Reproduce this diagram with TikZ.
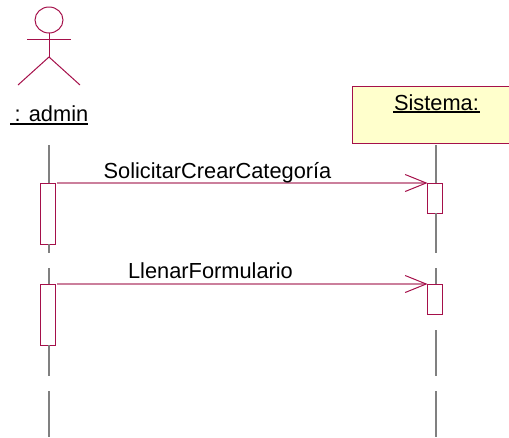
\documentclass[tikz,border=0pt]{standalone}
\usepackage{fontspec}
\usepackage{xcolor}
\usepackage{tikz}
\usetikzlibrary{arrows.meta}
\setmainfont{Liberation Sans}
\definecolor{umlred}{HTML}{A5104A}
\definecolor{umlpink}{HTML}{CB7F9C}
\definecolor{umlyellow}{HTML}{FFFFCC}
\tikzset{
  lifeline/.style={draw=gray,line width=1.3pt},
  actbox/.style={draw=umlred,fill=white,line width=1pt,minimum width=15pt,inner sep=0pt,outer sep=0pt},
  msgline/.style={draw=umlpink,line width=1.3pt,-{Straight Barb[color=umlred,length=21pt,width=17pt,line width=1pt]}},
  umltext/.style={font=\fontsize{21.8pt}{24pt}\selectfont,inner sep=0pt,anchor=base,text=black},
  underln/.style={draw=black,line width=1.2pt}
}
\begin{document}
\begin{tikzpicture}[x=1pt,y=-1pt]
  \useasboundingbox (0,0) rectangle (509,437);
  \clip (0,0) rectangle (509,437);
  % actor
  \draw[umlred,line width=1pt] (49,20) ellipse (14 and 13);
  \draw[umlred,line width=1pt] (27,39) -- (71,39);
  \draw[umlred,line width=1pt] (49,33) -- (49,57);
  \draw[umlred,line width=1pt] (18,85) -- (49,57) -- (80,85);
  \node[umltext] (adminlabel) at (51.5,121) {: admin};
  \coordinate (adminul) at (10,124);
  \draw[underln] (adminul) -- ++(78,0);
  % object box
  \node[draw=umlred,fill=umlyellow,line width=1pt,minimum width=170pt,minimum height=57pt,
    inner sep=0pt,anchor=north west] (sistema) at (351.5,86) {};
  \node[umltext] (sistemalabel) at (436.5,110) {Sistema:};
  \coordinate (sistemaul) at (393,112);
  \draw[underln] (sistemaul) -- ++(87,0);
  % activations
  \node[actbox,minimum height=61pt,anchor=north] (adminact1) at (48,183) {};
  \node[actbox,minimum height=61pt,anchor=north] (adminact2) at (48,284) {};
  \node[actbox,minimum height=30pt,anchor=north] (sistact1) at (435,183) {};
  \node[actbox,minimum height=30pt,anchor=north] (sistact2) at (435,284) {};
  % lifelines
  \foreach \n/\x in {admin/49,sist/436} {
    \coordinate (\n top) at (\x,145);
    \coordinate (\n gapa) at (\x,253);
    \coordinate (\n gapb) at (\x,268);
    \coordinate (\n gapc) at (\x,376);
    \coordinate (\n gapd) at (\x,391);
    \coordinate (\n end) at (\x,437);
    \draw[lifeline] (\n top) -- (\n top |- \n act1.north);
    \draw[lifeline] (\n top |- \n act1.south) -- (\n gapa);
    \draw[lifeline] (\n gapb) -- (\n gapb |- \n act2.north);
    \draw[lifeline] (\n gapd) -- (\n end);
  }
  \draw[lifeline] (admintop |- adminact2.south) -- (admingapc);
  \coordinate (sistgape) at (436,330);
  \draw[lifeline] (sistgape) -- (sistgapc);
  % messages
  \draw[msgline] ([xshift=1.5pt]adminact1.north east) -- (sistact1.north west);
  \node[umltext] (msgone) at (217.5,178) {SolicitarCrearCategoría};
  \draw[msgline] ([xshift=1.5pt]adminact2.north east) -- (sistact2.north west);
  \node[umltext] (msgtwo) at (210.5,278) {LlenarFormulario};
\end{tikzpicture}
\end{document}
